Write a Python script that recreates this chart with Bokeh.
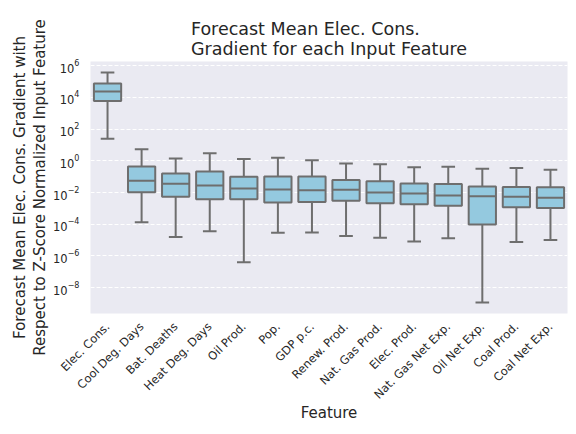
import math
from bokeh.plotting import figure
from bokeh.models import Range1d, FixedTicker, ColumnDataSource
from bokeh.transform import dodge
from bokeh.embed import file_html
from bokeh.resources import INLINE

features = ["Elec. Cons.", "Cool Deg. Days", "Bat. Deaths", "Heat Deg. Days", "Oil Prod.",
            "Pop.", "GDP p.c.", "Renew. Prod.", "Nat. Gas Prod.", "Elec. Prod.",
            "Nat. Gas Net Exp.", "Oil Net Exp.", "Coal Prod.", "Coal Net Exp."]
whisk_hi = [3.8e5, 5.4, 1.4, 3.0, 1.33, 1.55, 1.1, 0.68, 0.62, 0.4, 0.42, 0.32, 0.35, 0.275]
q3 = [7.5e4, 0.44, 0.16, 0.21, 0.1, 0.105, 0.105, 0.062, 0.051, 0.038, 0.035, 0.024, 0.0224, 0.0214]
median = [2.4e4, 0.056, 0.036, 0.0275, 0.0178, 0.0155, 0.014, 0.0148, 0.01, 8.7e-3, 6.5e-3, 5.9e-3, 5.4e-3, 4.7e-3]
q1 = [5.9e3, 0.0105, 5.4e-3, 3.8e-3, 3.8e-3, 2.37e-3, 2.5e-3, 3.0e-3, 2.1e-3, 1.8e-3, 1.5e-3, 9.5e-5, 1.2e-3, 1.05e-3]
whisk_lo = [25, 1.33e-4, 1.55e-5, 3.6e-5, 4.0e-7, 2.9e-5, 3.0e-5, 1.8e-5, 1.4e-5, 8.3e-6, 1.33e-5, 1.15e-9, 7.5e-6, 1.0e-5]
y_ticks = [1e-8, 1e-6, 1e-4, 1e-2, 1e0, 1e2, 1e4, 1e6]

TXT = "#262626"
LINE = "#6e6e6e"
FILL = "#94c9df"
FONT = "DejaVu Sans"

p = figure(x_range=features, y_axis_type="log", y_range=Range1d(10**-9.63, 10**6.27),
           width=568, height=426, output_backend="svg", toolbar_location=None,
           min_border_left=90, min_border_right=1, min_border_top=61, min_border_bottom=113,
           background_fill_color="#eaeaf2", border_fill_color="white", outline_line_color=None)

src = ColumnDataSource(dict(x=features, hi=whisk_hi, q3=q3, med=median, q1=q1, lo=whisk_lo))

# whiskers
p.segment(x0="x", y0="q3", x1="x", y1="hi", source=src, line_color=LINE, line_width=2)
p.segment(x0="x", y0="q1", x1="x", y1="lo", source=src, line_color=LINE, line_width=2)
# caps
for col in ("hi", "lo"):
    p.segment(x0=dodge("x", -0.2, range=p.x_range), y0=col,
              x1=dodge("x", 0.2, range=p.x_range), y1=col,
              source=src, line_color=LINE, line_width=2)
# boxes
p.vbar(x="x", top="q3", bottom="q1", width=0.8, source=src, fill_color=FILL,
       line_color=LINE, line_width=2)
# medians
p.segment(x0=dodge("x", -0.4, range=p.x_range), y0="med",
          x1=dodge("x", 0.4, range=p.x_range), y1="med",
          source=src, line_color=LINE, line_width=2)

p.title.text = "Forecast Mean Elec. Cons.\nGradient for each Input Feature"
p.title.align = "center"
p.title.text_font = FONT
p.title.text_font_size = "17.5px"
p.title.text_font_style = "normal"
p.title.text_color = TXT
p.title.standoff = 6

p.yaxis.ticker = FixedTicker(ticks=y_ticks)
p.yaxis.axis_label = "Forecast Mean Elec. Cons. Gradient with\nRespect to Z-Score Normalized Input Feature"
p.xaxis.axis_label = "Feature"
p.xaxis.major_label_orientation = math.pi / 4

for ax in (p.xaxis, p.yaxis):
    ax.axis_line_color = None
    ax.major_tick_line_color = None
    ax.minor_tick_line_color = None
    ax.major_label_text_font = FONT
    ax.major_label_text_font_size = "11.5px"
    ax.major_label_text_color = TXT
    ax.axis_label_text_font = FONT
    ax.axis_label_text_font_size = "15px"
    ax.axis_label_text_font_style = "normal"
    ax.axis_label_text_color = TXT

p.yaxis.axis_label_text_line_height = 1.1
p.yaxis.major_label_standoff = 5
p.yaxis.axis_label_standoff = 1
p.xaxis.major_label_standoff = 5
p.xaxis.axis_label_standoff = -5

p.xgrid.grid_line_color = None
p.ygrid.grid_line_color = "white"
p.ygrid.grid_line_dash = "4 2"
p.ygrid.grid_line_width = 1.2

open("out.html", "w").write(file_html(p, INLINE))
